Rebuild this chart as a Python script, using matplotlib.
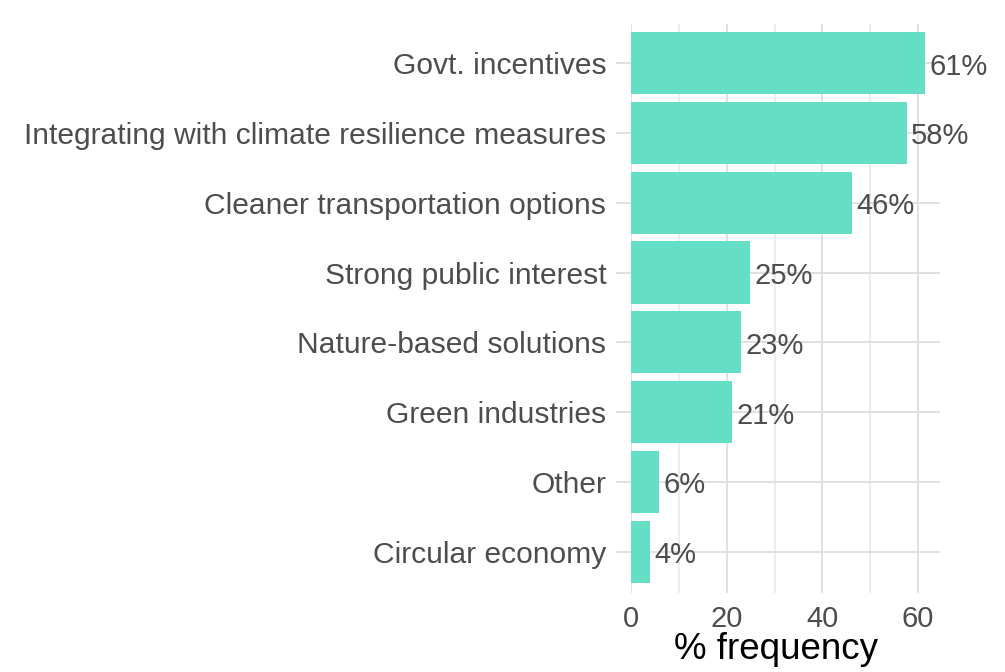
import numpy as np
import matplotlib
matplotlib.use("Agg")
import matplotlib.pyplot as plt

# data, top to bottom as drawn
categories = ["Govt. incentives",
              "Integrating with climate resilience measures",
              "Cleaner transportation options",
              "Strong public interest",
              "Nature-based solutions",
              "Green industries",
              "Other",
              "Circular economy"]
pct = [61.4, 57.6, 46.1, 24.8, 23.0, 21.1, 5.9, 4.0]

plt.rcParams['font.family'] = ['Liberation Sans', 'DejaVu Sans']

fig = plt.figure(figsize=(10.05, 6.72), dpi=100)
ax = fig.add_axes([0.628, 0.1176, 0.307, 0.8467])

ypos = np.arange(len(categories))[::-1]
ax.barh(ypos, pct, height=0.89, color='#64dec4', zorder=3)

for y, v in zip(ypos, pct):
    ax.text(v + 0.9, y - 0.05, "%d%%" % round(v), va='center', ha='left',
            fontsize=21, color='#4d4d4d', zorder=4)

ax.set_yticks(ypos)
ax.set_yticklabels(categories)
ax.set_xticks([0, 20, 40, 60])
ax.set_xticks([10, 30, 50], minor=True)
ax.set_xlim(0, 64.5)
ax.set_ylim(-0.59, len(categories) - 1 + 0.56)

ax.grid(axis='x', which='major', color='#dedede', lw=1.3, zorder=0)
ax.grid(axis='x', which='minor', color='#e8e8e8', lw=1.1, zorder=0)
ax.grid(axis='y', which='major', color='#dedede', lw=1.3, zorder=0)
for s in ax.spines.values():
    s.set_visible(False)

ax.tick_params(axis='y', length=11, width=1.3, color='#dedede', pad=7,
               labelsize=21.6, labelcolor='#4d4d4d')
ax.tick_params(axis='x', which='both', length=0, pad=9,
               labelsize=21, labelcolor='#4d4d4d')
ax.set_xlabel("% frequency", fontsize=26.5, color='black')
ax.xaxis.set_label_coords(0.469, -0.068)

fig.savefig("out.png", dpi=100)
